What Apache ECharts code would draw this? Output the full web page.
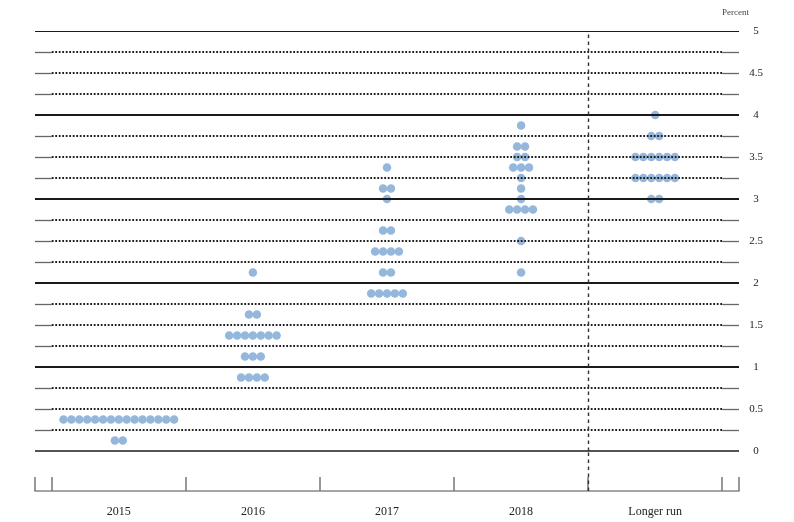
<!DOCTYPE html>
<html>
<head>
<meta charset="utf-8">
<script src="https://cdn.jsdelivr.net/npm/echarts@6/dist/echarts.min.js"></script>
<style>
html,body{margin:0;padding:0;background:#fff;}
#chart{width:794px;height:522px;}
</style>
</head>
<body>
<div id="chart"></div>
<script>
// ---- data ----
const categories = ['2015', '2016', '2017', '2018', 'Longer run'];
const levels2015 = [0.375, 0.125];
const counts2015 = [15, 2];
const levels2016 = [2.125, 1.625, 1.375, 1.125, 0.875];
const counts2016 = [1, 2, 7, 3, 4];
const levels2017 = [3.375, 3.125, 3.0, 2.625, 2.375, 2.125, 1.875];
const counts2017 = [1, 2, 1, 2, 4, 2, 5];
const levels2018 = [3.875, 3.625, 3.5, 3.375, 3.25, 3.125, 3.0, 2.875, 2.5, 2.125];
const counts2018 = [1, 2, 2, 3, 1, 1, 1, 4, 1, 1];
const levelsLonger = [4.0, 3.75, 3.5, 3.25, 3.0];
const countsLonger = [1, 2, 6, 6, 2];
const gridLevels = [0,0.25,0.5,0.75,1,1.25,1.5,1.75,2,2.25,2.5,2.75,3,3.25,3.5,3.75,4,4.25,4.5,4.75,5];
const yTickLabels = [0,0.5,1,1.5,2,2.5,3,3.5,4,4.5,5];

// ---- layout / style ----
const SERIF = "'Liberation Serif', 'DejaVu Serif', serif";
const DOT_COLOR = '#95b7db';
const DOT_SIZE = 8.5;
const DOT_SPACING = 7.9;
const X_MIN = -0.625, X_MAX = 4.625;

const groups = [
  [levels2015, counts2015],
  [levels2016, counts2016],
  [levels2017, counts2017],
  [levels2018, counts2018],
  [levelsLonger, countsLonger]
];

const dotData = [];
groups.forEach(([levels, counts], ci) => {
  levels.forEach((lv, k) => {
    const n = counts[k];
    for (let j = 0; j < n; j++) {
      dotData.push({
        value: [ci, lv],
        symbolOffset: [(j - (n - 1) / 2) * DOT_SPACING, 0]
      });
    }
  });
});

const gridLineData = [];
gridLevels.forEach(lv => {
  const isInt = Math.abs(lv - Math.round(lv)) < 1e-9;
  if (isInt) {
    const w = lv === 5 ? 1.2 : (lv === 0 ? 1.5 : 2);
    gridLineData.push([
      {xAxis: X_MIN, yAxis: lv, lineStyle: {type: 'solid', width: w, color: '#1a1a1a'}},
      {xAxis: X_MAX, yAxis: lv}
    ]);
  } else {
    gridLineData.push([
      {xAxis: -0.5, yAxis: lv, lineStyle: {type: [1.8, 1.7], width: 2, color: '#1e1e1e'}},
      {xAxis: 4.5, yAxis: lv}
    ]);
    gridLineData.push([
      {xAxis: X_MIN, yAxis: lv, lineStyle: {type: 'solid', width: 1.3, color: '#666'}},
      {xAxis: -0.5, yAxis: lv}
    ]);
    gridLineData.push([
      {xAxis: 4.5, yAxis: lv, lineStyle: {type: 'solid', width: 1.3, color: '#666'}},
      {xAxis: X_MAX, yAxis: lv}
    ]);
  }
});

const tickPositions = [X_MIN, -0.5, 0.5, 1.5, 2.5, 3.5, 4.5, X_MAX];
const labelPositions = categories.map((c, i) => i);

const chart = echarts.init(document.getElementById('chart'), null, {renderer: 'canvas'});
chart.setOption({
  animation: false,
  backgroundColor: '#fff',
  title: {
    text: 'Percent',
    right: 40,
    top: 3,
    textStyle: {fontFamily: SERIF, fontSize: 9, fontWeight: 'normal', color: '#444'}
  },
  grid: [
    {left: 35, right: 55, top: 31, bottom: 71},
    {left: 35, right: 55, top: 451, bottom: 31}
  ],
  xAxis: [
    {gridIndex: 0, type: 'value', min: X_MIN, max: X_MAX, show: false},
    {
      gridIndex: 1, type: 'value', min: X_MIN, max: X_MAX,
      axisLine: {show: true, lineStyle: {color: '#888', width: 1.6}},
      axisTick: {show: true, inside: true, length: 14, customValues: tickPositions,
        lineStyle: {color: '#777', width: 1.5}},
      axisLabel: {show: true, customValues: labelPositions, margin: 15,
        formatter: v => categories[Math.round(v)],
        fontFamily: SERIF, fontSize: 12, color: '#222'},
      splitLine: {show: false}
    }
  ],
  yAxis: [
    {
      gridIndex: 0, type: 'value', min: 0, max: 5, position: 'right',
      axisLine: {show: false}, axisTick: {show: false}, splitLine: {show: false},
      axisLabel: {show: true, customValues: yTickLabels, margin: 17, align: 'center',
        fontFamily: SERIF, fontSize: 11, color: '#222'}
    },
    {gridIndex: 1, type: 'value', min: 0, max: 1, show: false}
  ],
  series: [
    {
      type: 'scatter',
      xAxisIndex: 0, yAxisIndex: 0,
      z: 2,
      symbol: 'circle',
      symbolSize: DOT_SIZE,
      itemStyle: {color: DOT_COLOR, opacity: 1},
      data: dotData,
      silent: true
    },
    {
      type: 'line',
      xAxisIndex: 0, yAxisIndex: 0,
      z: 3,
      data: [],
      markLine: {
        silent: true, symbol: ['none', 'none'], label: {show: false},
        animation: false,
        data: gridLineData.concat([
          [{xAxis: 3.5, yAxis: 0, lineStyle: {type: [3.5, 3.5], width: 1.4, color: '#333'}},
           {xAxis: 3.5, yAxis: 5}]
        ])
      }
    },
    {
      type: 'line',
      xAxisIndex: 1, yAxisIndex: 1,
      z: 3,
      data: [],
      markLine: {
        silent: true, symbol: ['none', 'none'], label: {show: false},
        animation: false,
        data: [
          [{xAxis: 3.5, yAxis: 0, lineStyle: {type: [3.5, 3.5], width: 1.4, color: '#333'}},
           {xAxis: 3.5, yAxis: 1}]
        ]
      }
    }
  ]
});
</script>
</body>
</html>
